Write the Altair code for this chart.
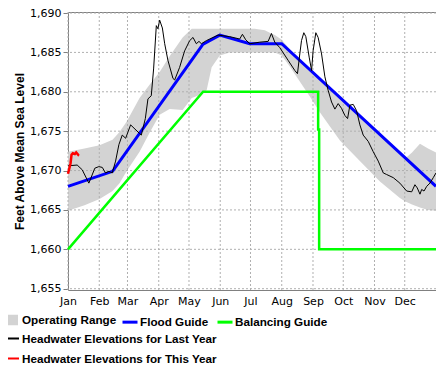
import json
import altair as alt
import pandas as pd

months = ["Jan", "Feb", "Mar", "Apr", "May", "Jun", "Jul", "Aug", "Sep", "Oct", "Nov", "Dec"]
month_days = [0, 31, 59, 90, 120, 151, 181, 212, 243, 273, 304, 334]
y_ticks = [1655, 1660, 1665, 1670, 1675, 1680, 1685, 1690]

# Operating range band (day of year, lower, upper)
band_days = [0, 16.4, 31.3, 44.2, 51.1, 58.1, 71.0, 80.9, 90.9, 100.8, 113.7, 122.7, 130.6,
             137.5, 142.5, 150.5, 160.4, 185.2, 195.2, 200.1, 205.1, 212.0, 220.0, 229.9,
             239.9, 249.8, 269.7, 289.5, 309.4, 329.2, 334.2, 341.2, 349.1, 357.1, 365]
band_low = [1664.9, 1665.6, 1666.4, 1667.4, 1668.4, 1669.9, 1672.4, 1674.8, 1677.1, 1677.8,
            1677.7, 1679.2, 1679.6, 1680.2, 1683.1, 1684.6, 1685.0, 1685.0, 1685.0, 1685.0,
            1685.0, 1684.6, 1683.2, 1681.3, 1679.4, 1677.4, 1673.8, 1671.2, 1668.6, 1666.5,
            1666.1, 1665.7, 1665.3, 1665.0, 1664.9]
band_high = [1672.4, 1672.8, 1673.2, 1673.9, 1674.9, 1676.2, 1679.2, 1680.9, 1682.5, 1684.5,
             1686.9, 1688.0, 1688.0, 1688.0, 1688.0, 1688.0, 1688.0, 1688.0, 1687.8, 1687.5,
             1687.2, 1686.6, 1685.4, 1684.0, 1682.8, 1681.6, 1679.3, 1676.9, 1674.5, 1672.0,
             1671.5, 1672.3, 1673.4, 1672.8, 1672.3]

flood_days = [0, 44.2, 133.6, 150.5, 180.3, 212.0, 365]
flood_ft = [1668.0, 1669.9, 1686.0, 1687.2, 1686.1, 1686.1, 1668.0]

bal_days = [0, 134, 248.1, 248.1, 249.1, 249.1, 365]
bal_ft = [1660.0, 1680.0, 1680.0, 1675.2, 1675.2, 1660.0, 1660.0]

last_days = [0, 9.1, 14.1, 20.7, 26.6, 30.6, 34.0, 37.2, 40.5, 43.9, 47.2, 50.5, 53.8, 57.2,
             62.1, 71.0, 72.7, 76.7, 79.3, 82.6, 84.9, 87.6, 89.2, 90.9, 93.6, 95.9, 99.1,
             104.1, 105.8, 110.7, 115.7, 120.7, 124.0, 127.3, 129.9, 132.3, 137.3, 148.8,
             160.4, 170.3, 173.0, 176.3, 180.3, 190.2, 198.5, 201.8, 205.1, 210.1, 218.3,
             225.0, 227.6, 229.9, 231.6, 233.9, 235.9, 239.2, 241.6, 243.1, 245.8, 248.1,
             251.5, 254.8, 258.0, 261.4, 264.7, 268.0, 271.3, 274.6, 277.3, 279.6, 282.9,
             286.2, 289.5, 292.8, 297.8, 302.7, 307.7, 312.7, 316.0, 322.6, 329.2, 335.9,
             340.9, 344.1, 346.4, 349.1, 350.8, 353.1, 355.8, 359.0, 362.3, 365]
last_ft = [1670.6, 1670.7, 1670.1, 1668.4, 1670.3, 1670.5, 1670.4, 1669.7, 1669.9, 1669.7,
           1671.2, 1673.3, 1674.5, 1674.1, 1675.8, 1674.7, 1674.5, 1676.6, 1679.1, 1679.5,
           1682.9, 1688.4, 1688.0, 1689.1, 1688.1, 1686.1, 1684.0, 1681.7, 1681.5, 1683.1,
           1685.2, 1686.5, 1686.9, 1686.1, 1686.4, 1686.1, 1686.5, 1687.2, 1687.0, 1686.7,
           1687.3, 1686.6, 1686.1, 1686.3, 1686.4, 1687.4, 1686.3, 1685.6, 1684.0, 1682.7,
           1682.3, 1684.8, 1686.5, 1687.5, 1687.0, 1684.4, 1682.7, 1685.2, 1687.5, 1686.9,
           1684.8, 1681.9, 1680.2, 1678.7, 1677.8, 1678.5, 1677.9, 1677.0, 1676.6, 1678.3,
           1678.4, 1677.6, 1675.8, 1674.5, 1673.7, 1672.4, 1671.2, 1669.7, 1669.5, 1669.1,
           1668.4, 1667.4, 1667.3, 1668.2, 1667.8, 1667.0, 1667.6, 1667.4, 1668.0, 1668.4,
           1669.1, 1669.7]

this_days = [0, 2.5, 3.5, 4.8, 6.8, 8.1, 10.1, 10.7]
this_ft = [1669.6, 1670.9, 1672.0, 1672.2, 1672.1, 1672.3, 1672.0, 1672.1]

S_RANGE = "Operating Range"
S_FLOOD = "Flood Guide"
S_BAL = "Balancing Guide"
S_LAST = "Headwater Elevations for Last Year"
S_THIS = "Headwater Elevations for This Year"

band_df = pd.DataFrame({"day": band_days, "low": band_low, "high": band_high, "series": S_RANGE})
flood_df = pd.DataFrame({"day": flood_days, "ft": flood_ft, "series": S_FLOOD, "i": range(len(flood_days))})
bal_df = pd.DataFrame({"day": bal_days, "ft": bal_ft, "series": S_BAL, "i": range(len(bal_days))})
last_df = pd.DataFrame({"day": last_days, "ft": last_ft, "series": S_LAST, "i": range(len(last_days))})
this_df = pd.DataFrame({"day": this_days, "ft": this_ft, "series": S_THIS, "i": range(len(this_days))})
mgrid_df = pd.DataFrame({"day": month_days})
ygrid_df = pd.DataFrame({"ft": y_ticks})

LABEL_FONT = "DejaVu Sans"
LEG_FONT = "Liberation Sans"

xscale = alt.Scale(domain=[0, 365], nice=False, zero=False)
yscale = alt.Scale(domain=[1654.835, 1690.13], nice=False, zero=False)

xaxis = alt.Axis(
    values=month_days,
    labelExpr=f"{json.dumps(months)}[indexof({json.dumps(month_days)}, datum.value)]",
    title=None, grid=False, domain=False, ticks=False, labelPadding=5,
    labelFont=LABEL_FONT, labelFontSize=11, labelColor="#000000", labelFlush=False,
)
yaxis = alt.Axis(
    values=y_ticks, format=",d", title="Feet Above Mean Sea Level",
    grid=False, domain=False, tickSize=5, tickColor="#808080", labelPadding=2,
    labelFont=LABEL_FONT, labelFontSize=11, labelColor="#000000",
    titleFont=LEG_FONT, titleFontSize=12, titleFontWeight="bold", titleColor="#000000",
    titleX=-49, titleBaseline="middle",
)

x_enc = alt.X("day:Q", scale=xscale, axis=xaxis)
y_enc = alt.Y("ft:Q", scale=yscale, axis=yaxis)

leg_text = dict(labelFont=LEG_FONT, labelFontSize=11.7, labelFontWeight="bold",
                labelColor="#000000", labelLimit=0, padding=0, title=None, orient="none")

area = alt.Chart(band_df).mark_area(opacity=1).encode(
    x=x_enc,
    y=alt.Y("low:Q", scale=yscale, axis=yaxis),
    y2="high:Q",
    fill=alt.Fill("series:N", scale=alt.Scale(domain=[S_RANGE], range=["#d3d3d3"]),
                  legend=alt.Legend(legendX=-64, legendY=301,
                                    symbolType="M-1,-0.75H1V0.75H-1Z", symbolSize=196,
                                    symbolStrokeWidth=0, symbolOpacity=1, labelOffset=4,
                                    **leg_text)),
)

gridx = alt.Chart(mgrid_df).mark_rule(color="#b0b0b0", strokeDash=[2, 2], strokeWidth=1).encode(x=x_enc)
gridy = alt.Chart(ygrid_df).mark_rule(color="#b0b0b0", strokeDash=[2, 2], strokeWidth=1).encode(y=y_enc)

color_scale = alt.Scale(domain=[S_FLOOD, S_BAL], range=["#0000ff", "#00ff00"])
color_legend = alt.Legend(legendX=53, legendY=301, direction="horizontal",
                          symbolType="stroke", symbolSize=225, symbolStrokeWidth=3, labelOffset=1,
                          columnPadding=2, **leg_text)
stroke_scale = alt.Scale(domain=[S_LAST, S_THIS], range=["#000000", "#ff0000"])
stroke_legend = alt.Legend(legendX=-65, legendY=318, direction="vertical",
                           symbolType="stroke", symbolSize=225, symbolStrokeWidth=2, labelOffset=2,
                           rowPadding=4, **leg_text)

bal = alt.Chart(bal_df).mark_line(strokeWidth=2.5).encode(
    x=x_enc, y=y_enc, order="i:Q",
    color=alt.Color("series:N", scale=color_scale, legend=color_legend))
flood = alt.Chart(flood_df).mark_line(strokeWidth=3).encode(
    x=x_enc, y=y_enc, order="i:Q",
    color=alt.Color("series:N", scale=color_scale, legend=color_legend))
last = alt.Chart(last_df).mark_line(strokeWidth=1).encode(
    x=x_enc, y=y_enc, order="i:Q",
    stroke=alt.Stroke("series:N", scale=stroke_scale, legend=stroke_legend))
this = alt.Chart(this_df).mark_line(strokeWidth=2.5).encode(
    x=x_enc, y=y_enc, order="i:Q",
    stroke=alt.Stroke("series:N", scale=stroke_scale, legend=stroke_legend))

chart = alt.layer(area, gridx, gridy, bal, flood, last, this).properties(
    width=368, height=278,
    autosize=alt.AutoSizeParams(type="none"),
    padding={"left": 60, "top": 4, "right": 0, "bottom": 75},
    background="#ffffff",
).configure_view(stroke="#808080", strokeWidth=1)

chart.save("out.html", embed_options={"renderer": "svg", "actions": False})
